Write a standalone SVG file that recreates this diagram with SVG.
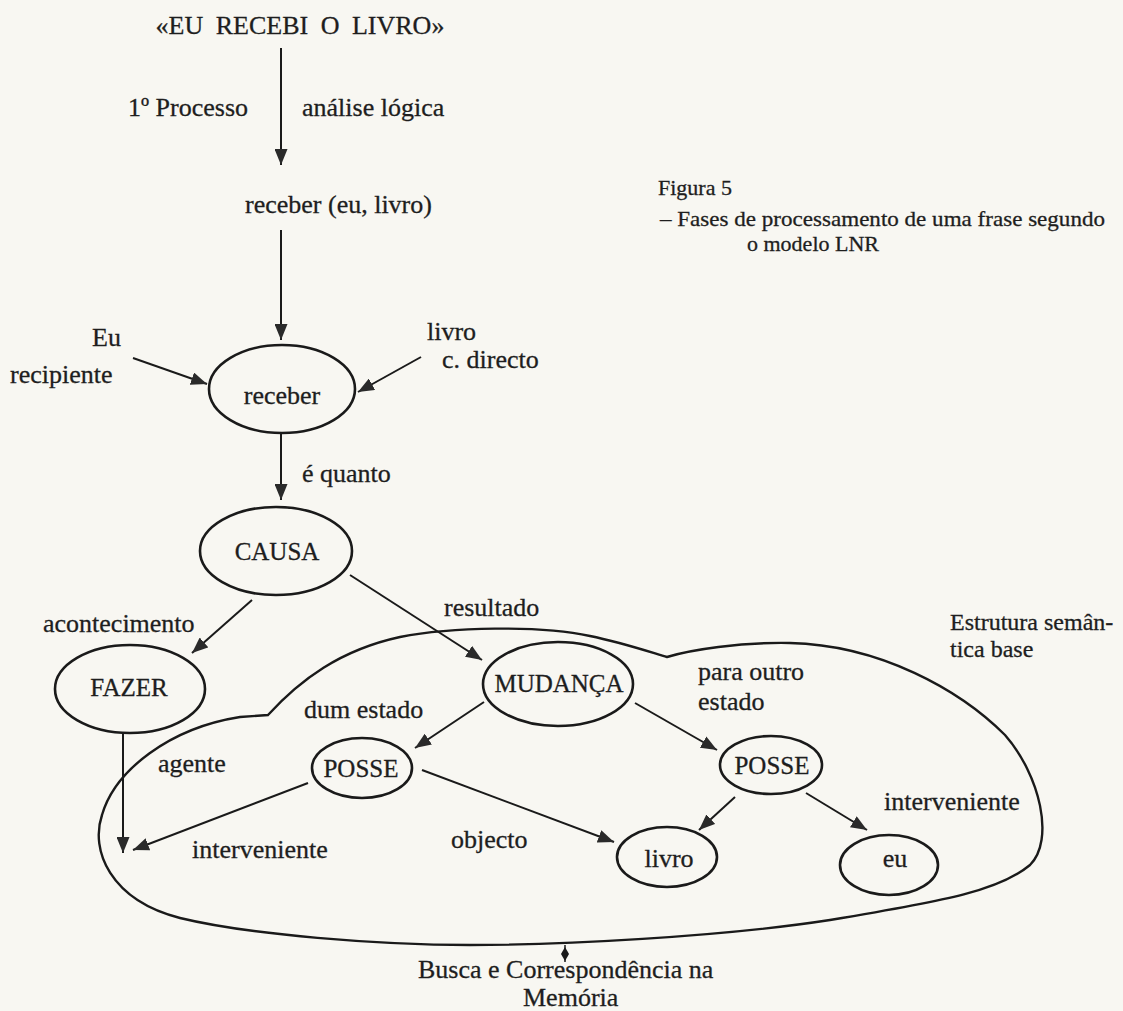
<svg xmlns="http://www.w3.org/2000/svg" width="1123" height="1011" viewBox="0 0 1123 1011">
<style>
text{font-family:"Liberation Serif","Times New Roman",serif;fill:#1e1e1e;font-size:26px;stroke:#1e1e1e;stroke-width:0.3}
.cap{font-size:25px}
.sm{font-size:22px}
.est{font-size:24px}
.node ellipse{fill:none;stroke:#1a1a1a;stroke-width:2.6}
.edge{stroke:#1a1a1a;stroke-width:2;fill:none;marker-end:url(#ah)}
.contour{fill:none;stroke:#1a1a1a;stroke-width:2.4}
</style>
<defs>
<marker id="ah" markerUnits="userSpaceOnUse" markerWidth="17" markerHeight="13" refX="16" refY="6.5" orient="auto">
<path d="M0,0 L16,6.5 L0,13 Z" fill="#2a2a2a"/>
</marker>
</defs>
<rect width="1123" height="1011" fill="#f8f7f2"/>

<g id="title"><text x="300" y="34" text-anchor="middle" word-spacing="6">«EU RECEBI O LIVRO»</text></g>
<g id="caption">
<text class="sm" x="658" y="195">Figura 5</text>
<text class="sm" x="660" y="226" textLength="445" lengthAdjust="spacingAndGlyphs">– Fases de processamento de uma frase segundo</text>
<text class="sm" x="747" y="251">o modelo LNR</text>
</g>
<g id="logic"><text x="245" y="213">receber (eu, livro)</text></g>

<g id="structure"><path class="contour" d="M268,715 C300,680 340,650 400,637 C450,627 540,625 590,636 C620,642 650,652 667,657 C690,650 740,642 790,643 C880,645 960,690 1005,735 C1040,775 1055,840 1030,865 C1000,890 950,900 830,920 C720,937 560,945 470,945 C380,945 250,935 180,918 C110,900 90,850 102,815 C115,770 170,728 240,717 Z"/>
<line x1="565" y1="945" x2="565" y2="962" stroke="#1a1a1a" stroke-width="1.5"/>
<polygon points="565,947 569,954 565,961 561,954" fill="#1a1a1a"/>
</g>

<g id="n-receber" class="node"><ellipse cx="282" cy="389" rx="73" ry="44"/><text x="282" y="404" text-anchor="middle">receber</text></g>
<g id="n-causa" class="node"><ellipse cx="276" cy="551" rx="76" ry="44"/><text class="cap" x="277" y="560" text-anchor="middle">CAUSA</text></g>
<g id="n-fazer" class="node"><ellipse cx="130" cy="689" rx="75" ry="44"/><text class="cap" x="129" y="696" text-anchor="middle">FAZER</text></g>
<g id="n-mudanca" class="node"><ellipse cx="558" cy="684" rx="75" ry="42"/><text class="cap" x="559" y="692" text-anchor="middle">MUDANÇA</text></g>
<g id="n-posse1" class="node"><ellipse cx="362" cy="768" rx="50" ry="30"/><text class="cap" x="361" y="777" text-anchor="middle">POSSE</text></g>
<g id="n-posse2" class="node"><ellipse cx="771" cy="765" rx="51" ry="29"/><text class="cap" x="772" y="774" text-anchor="middle">POSSE</text></g>
<g id="n-livro" class="node"><ellipse cx="667" cy="857" rx="50" ry="30"/><text x="669" y="867" text-anchor="middle">livro</text></g>
<g id="n-eu" class="node"><ellipse cx="889" cy="865" rx="49" ry="30"/><text x="895" y="867" text-anchor="middle">eu</text></g>

<g id="connectors">
<line class="edge" x1="281" y1="48" x2="281" y2="165"/>
<line class="edge" x1="281" y1="230" x2="281" y2="340"/>
<line class="edge" x1="133" y1="358" x2="207" y2="384"/>
<line class="edge" x1="421" y1="357" x2="358" y2="392"/>
<line class="edge" x1="281" y1="433" x2="281" y2="500"/>
<line class="edge" x1="252" y1="600" x2="192" y2="653"/>
<line class="edge" x1="350" y1="575" x2="482" y2="660"/>
<line class="edge" x1="484" y1="702" x2="415" y2="748"/>
<line class="edge" x1="635" y1="703" x2="717" y2="750"/>
<line class="edge" x1="123" y1="733" x2="123" y2="853"/>
<line class="edge" x1="308" y1="783" x2="133" y2="850"/>
<line class="edge" x1="422" y1="770" x2="614" y2="842"/>
<line class="edge" x1="735" y1="797" x2="699" y2="830"/>
<line class="edge" x1="806" y1="793" x2="867" y2="830"/>
</g>

<g id="labels">
<text x="128" y="116">1º Processo</text>
<text x="302" y="116">análise lógica</text>
<text x="92" y="346">Eu</text>
<text x="10" y="383">recipiente</text>
<text x="427" y="340">livro</text>
<text x="442" y="368">c. directo</text>
<text x="302" y="482">é quanto</text>
<text x="43" y="632">acontecimento</text>
<text x="444" y="616">resultado</text>
<text x="304" y="718">dum estado</text>
<text x="698" y="680">para outro</text>
<text x="698" y="710">estado</text>
<text class="est" x="950" y="630">Estrutura semân-</text>
<text class="est" x="950" y="657">tica base</text>
<text x="158" y="772">agente</text>
<text x="192" y="858">interveniente</text>
<text x="451" y="848">objecto</text>
<text x="884" y="810">interveniente</text>
<text x="418" y="978">Busca  e Correspondência na</text>
<text x="523" y="1006">Memória</text>
</g>
</svg>
